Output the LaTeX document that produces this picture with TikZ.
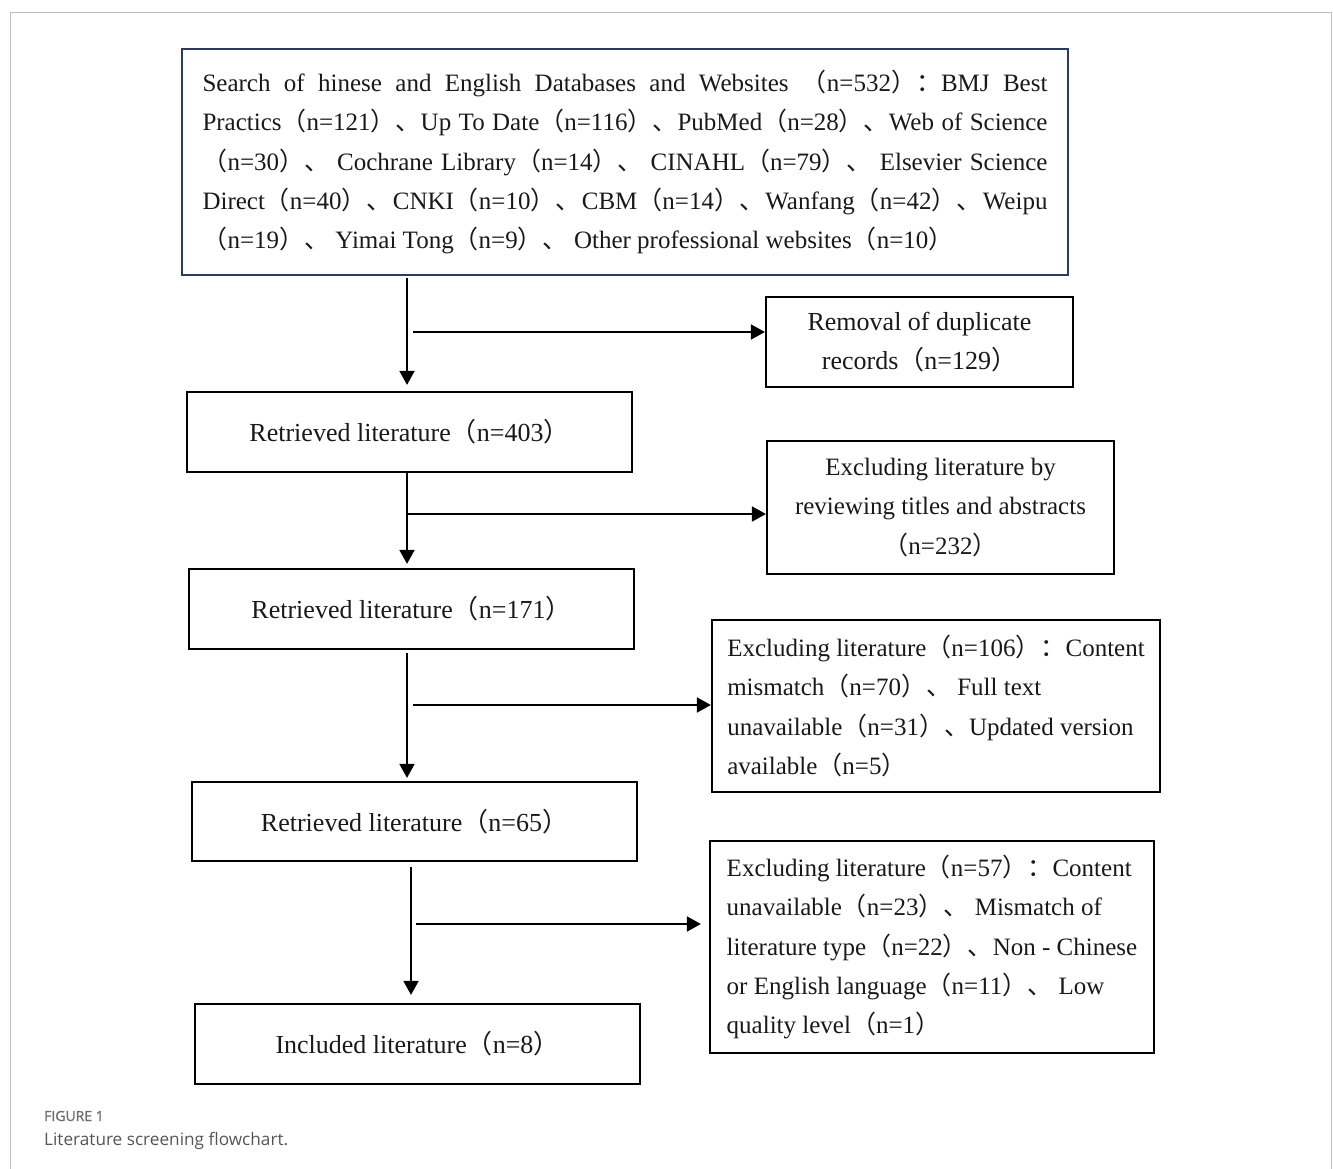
\documentclass[tikz,border=0pt]{standalone}
\usepackage{fontspec}
\setmainfont{Liberation Serif}
\newfontfamily\cjk{Noto Sans CJK SC}
\newfontfamily\capfont{Open Sans}
\newfontfamily\capbold[FakeBold=1.3]{Open Sans}
\usetikzlibrary{arrows.meta}
\newcommand\LP{{\cjk （}}
\newcommand\RP{{\cjk ）}}
\newcommand\DN{{\cjk 、}}
\newcommand\DNs{{\cjk 、}\hspace{0pt plus 1fil}}
\newcommand\CL{{\cjk ：}}
\definecolor{navy}{RGB}{44,60,95}
\definecolor{framegray}{RGB}{190,190,190}
\definecolor{capgray}{RGB}{110,110,110}
\definecolor{captext}{RGB}{85,85,85}
\tikzset{
  box/.style={draw=black, line width=2.2pt, rectangle, inner sep=0pt, align=center,
    text=black!90, font=\fontsize{25}{39.3}\selectfont},
  onebox/.style={box, font=\fontsize{26}{39.3}\selectfont},
  topbox/.style={box, draw=navy, line width=2.4pt, align=left},
  arr/.style={line width=1.8pt, -{Triangle[length=14pt,width=15pt]}}
}
\begin{document}
\begin{tikzpicture}[x=1pt,y=-1pt]
\useasboundingbox (0,0) rectangle (1333,1169);
% outer frame
\draw[framegray, line width=1.8pt] (10.5,1169) -- (10.5,12.5) -- (1331.5,12.5) -- (1331.5,1169);

\node[topbox, minimum width=886pt, minimum height=226pt] (top) at (625,162) {%
\makebox[845pt][s]{Search of hinese and English Databases and Websites \LP n=532\RP\CL BMJ Best}\\
\makebox[845pt][s]{Practics\LP n=121\RP\DN Up To Date\LP n=116\RP\DN PubMed\LP n=28\RP\DN Web of Science}\\
\makebox[845pt][s]{\LP n=30\RP\DN{} Cochrane Library\LP n=14\RP\DN{} CINAHL\LP n=79\RP\DN{} Elsevier Science}\\
\makebox[845pt][s]{Direct\LP n=40\RP\DNs CNKI\LP n=10\RP\DNs CBM\LP n=14\RP\DNs Wanfang\LP n=42\RP\DNs Weipu}\\
\LP n=19\RP\DN{} Yimai Tong\LP n=9\RP\DN{} Other professional websites\LP n=10\RP};

\node[onebox, minimum width=307pt, minimum height=90pt] (rem) at (919.5,342)
  {Removal of duplicate\\records\LP n=129\RP};
\node[onebox, minimum width=445pt, minimum height=80pt] (r403) at (409.5,432)
  {Retrieved literature\LP n=403\RP};
\node[box, minimum width=347pt, minimum height=133pt] (ex1) at (940.5,507.5)
  {Excluding literature by\\reviewing titles and abstracts\\\LP n=232\RP};
\node[onebox, minimum width=445pt, minimum height=80pt] (r171) at (411.5,609)
  {Retrieved literature\LP n=171\RP};
\node[box, align=left, minimum width=448pt, minimum height=172pt] (ex2) at (936,706)
  {Excluding literature\LP n=106\RP\CL Content\\
   mismatch\LP n=70\RP\DN{} Full text\\
   unavailable\LP n=31\RP\DN Updated version\\
   available\LP n=5\RP};
\node[onebox, minimum width=445pt, minimum height=79pt] (r65) at (414.5,821.5)
  {Retrieved literature\LP n=65\RP};
\node[box, align=left, minimum width=444pt, minimum height=212pt] (ex3) at (932,947)
  {Excluding literature\LP n=57\RP\CL Content\\
   unavailable\LP n=23\RP\DN{} Mismatch of\\
   literature type\LP n=22\RP\DN Non - Chinese\\
   or English language\LP n=11\RP\DN{} Low\\
   quality level\LP n=1\RP};
\node[onebox, minimum width=445pt, minimum height=80pt] (inc) at (417.5,1044)
  {Included literature\LP n=8\RP};

% connector x positions and branch points
\coordinate (c1) at (407,0);
\coordinate (c2) at (407,0);
\coordinate (c3) at (407,0);
\coordinate (c4) at (411,0);
\coordinate (b1) at (413,332);
\coordinate (b2) at (407,514);
\coordinate (b3) at (413,705);
\coordinate (b4) at (416,924);

\draw[arr, shorten <=2pt, shorten >=6pt] (top.south -| c1) -- (r403.north -| c1);
\draw[arr] (b1) -- (b1 -| rem.west);
\draw[arr, shorten >=4pt] (r403.south -| c2) -- (r171.north -| c2);
\draw[arr] (b2) -- (b2 -| ex1.west);
\draw[arr, shorten <=3pt, shorten >=3pt] (r171.south -| c3) -- (r65.north -| c3);
\draw[arr] (b3) -- (b3 -| ex2.west);
\draw[arr, shorten <=5pt, shorten >=8pt] (r65.south -| c4) -- (inc.north -| c4);
\draw[arr, shorten >=8pt] (b4) -- (b4 -| ex3.west);

% caption
\node[anchor=base west, inner sep=0pt, font=\capbold\fontsize{14}{16}\selectfont, text=capgray] (figlab) at (44,1121) {FIGURE 1};
\node[anchor=base west, inner sep=0pt, font=\capfont\fontsize{17.2}{20}\selectfont, text=captext] (figcap) at (44,1145) {Literature screening flowchart.};
\end{tikzpicture}
\end{document}
